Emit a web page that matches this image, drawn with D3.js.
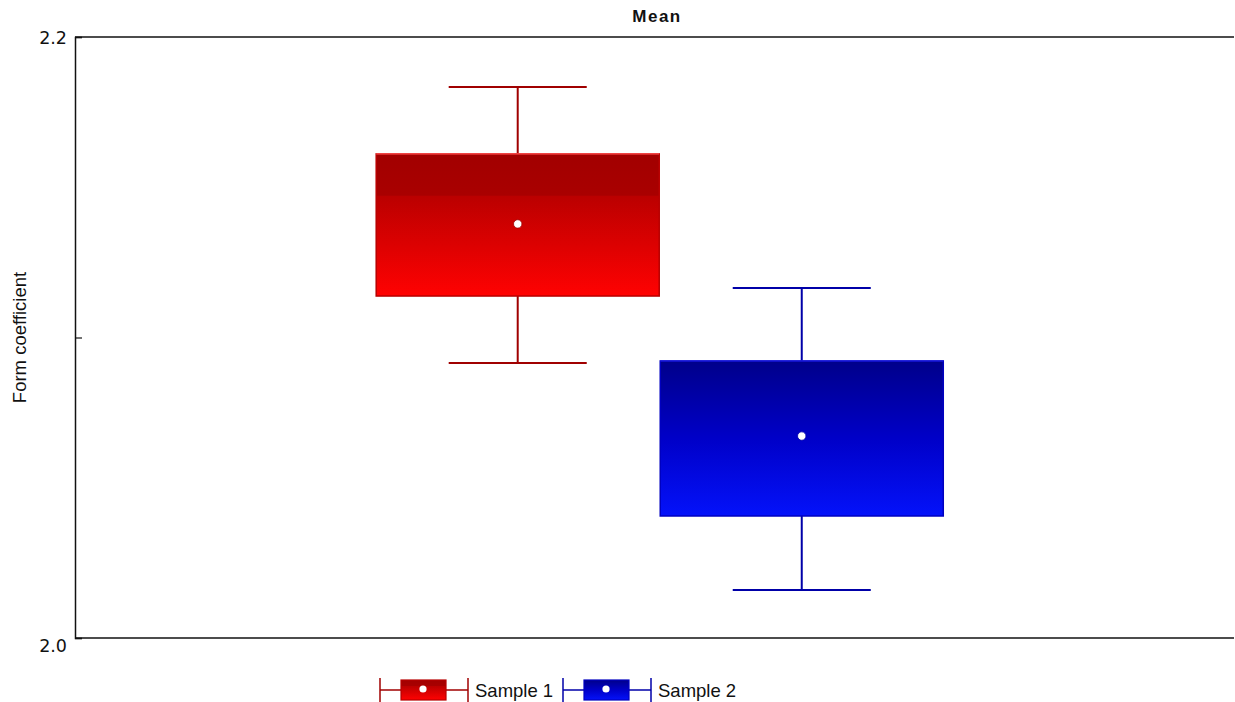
<!DOCTYPE html>
<html>
<head>
<meta charset="utf-8">
<script src="https://cdn.jsdelivr.net/npm/d3@7"></script>
<style>
  html, body { margin: 0; padding: 0; background: #fff; }
  svg { display: block; }
</style>
</head>
<body>
<svg id="chart" width="1235" height="702"></svg>
<script>
// Form coefficient per sample: mean, box range and whisker range
const categories  = ["Sample 1", "Sample 2"];
const means       = [2.1378, 2.0672];
const boxLow      = [2.1138, 2.0406];
const boxHigh     = [2.1611, 2.0922];
const whiskerLow  = [2.0915, 2.0160];
const whiskerHigh = [2.1834, 2.1165];
const yTicks      = [2.0, 2.1, 2.2];
const yTickLabels = ["2.0", "", "2.2"];

const palette = [
  { line: "#a00000", stops: [["0%", "#a20000"], ["29%", "#a90000"], ["30%", "#bb0000"], ["100%", "#ff0202"]], edge: "#b80000", topEdge: "#ff5050" },
  { line: "#0000a8", stops: [["0%", "#00008a"], ["50%", "#0000c8"], ["100%", "#0412fa"]], edge: "#0000c0", topEdge: "#2020e0" }
];

const W = 1235, H = 702;
const m = { left: 75, right: 0, top: 37, bottom: 64 };
const svg = d3.select("#chart");

const x = d3.scaleBand()
  .domain(categories)
  .range([m.left, W - m.right])
  .paddingInner(0)
  .paddingOuter(1.042)
  .align(0.508);

const y = d3.scaleLinear()
  .domain([2.0, 2.2])
  .range([H - m.bottom, m.top]);

// gradients
const defs = svg.append("defs");
palette.forEach((p, i) => {
  const g = defs.append("linearGradient")
    .attr("id", "grad" + i)
    .attr("x1", 0).attr("y1", 0).attr("x2", 0).attr("y2", 1);
  p.stops.forEach(s => g.append("stop").attr("offset", s[0]).attr("stop-color", s[1]));
});

// title
svg.append("text")
  .attr("x", 657).attr("y", 22)
  .attr("text-anchor", "middle")
  .attr("font-family", "Liberation Sans, Arial, sans-serif")
  .attr("font-weight", "bold")
  .attr("font-size", 17)
  .attr("letter-spacing", 1.5)
  .attr("fill", "#111")
  .text("Mean");

// y axis label
svg.append("text")
  .attr("transform", `translate(26,${y(2.1)}) rotate(-90)`)
  .attr("text-anchor", "middle")
  .attr("font-family", "Liberation Sans, Arial, sans-serif")
  .attr("font-size", 18.5)
  .attr("fill", "#111")
  .text("Form coefficient");

// frame lines (top and bottom)
svg.append("line")
  .attr("x1", m.left).attr("x2", W - 1)
  .attr("y1", y(2.2)).attr("y2", y(2.2))
  .attr("stroke", "#111").attr("stroke-width", 1.5);
svg.append("line")
  .attr("x1", m.left).attr("x2", W - 1)
  .attr("y1", y(2.0)).attr("y2", y(2.0))
  .attr("stroke", "#111").attr("stroke-width", 1.5);

// y axis
const yAxis = d3.axisLeft(y)
  .tickValues(yTicks)
  .tickSize(-7)
  .tickPadding(8)
  .tickFormat((d, i) => yTickLabels[i]);
const ga = svg.append("g")
  .attr("transform", `translate(${m.left},0)`)
  .call(yAxis);
ga.select(".domain").attr("stroke", "#111").attr("stroke-width", 1.5);
ga.selectAll(".tick line").attr("stroke", "#111").attr("stroke-width", 1.2);
ga.selectAll(".tick text")
  .attr("font-family", "DejaVu Sans, sans-serif")
  .attr("font-size", 17.5)
  .attr("fill", "#111")
  .attr("dy", d => d === 2.0 ? "0.75em" : "0.36em");

// boxes
const bw = x.bandwidth();
const capW = bw * 0.486;
categories.forEach((c, i) => {
  const p = palette[i];
  const cx = x(c) + bw / 2;
  const g = svg.append("g");
  // whisker stem
  g.append("line")
    .attr("x1", cx).attr("x2", cx)
    .attr("y1", y(whiskerHigh[i])).attr("y2", y(whiskerLow[i]))
    .attr("stroke", p.line).attr("stroke-width", 2);
  // caps
  [whiskerHigh[i], whiskerLow[i]].forEach(v => {
    g.append("line")
      .attr("x1", cx - capW / 2).attr("x2", cx + capW / 2)
      .attr("y1", y(v)).attr("y2", y(v))
      .attr("stroke", p.line).attr("stroke-width", 2);
  });
  // box
  g.append("rect")
    .attr("x", x(c) + 0.5).attr("width", bw - 1)
    .attr("y", y(boxHigh[i])).attr("height", y(boxLow[i]) - y(boxHigh[i]))
    .attr("fill", `url(#grad${i})`)
    .attr("stroke", p.edge).attr("stroke-width", 1.5);
  g.append("line")
    .attr("x1", x(c) + 0.5).attr("x2", x(c) + bw - 0.5)
    .attr("y1", y(boxHigh[i])).attr("y2", y(boxHigh[i]))
    .attr("stroke", p.topEdge).attr("stroke-width", 1.2);
  // mean marker
  g.append("circle")
    .attr("cx", cx).attr("cy", y(means[i]))
    .attr("r", 4.2)
    .attr("fill", "#fff")
    .attr("stroke", p.line).attr("stroke-width", 0.8);
});

// legend
const legendY = 690;
const legendItems = [{ x0: 380 }, { x0: 563 }];
categories.forEach((c, i) => {
  const p = palette[i];
  const x0 = legendItems[i].x0;
  const g = svg.append("g");
  g.append("line").attr("x1", x0).attr("x2", x0 + 88)
    .attr("y1", legendY).attr("y2", legendY)
    .attr("stroke", p.line).attr("stroke-width", 1.5);
  [x0, x0 + 88].forEach(xx => {
    g.append("line").attr("x1", xx).attr("x2", xx)
      .attr("y1", legendY - 12).attr("y2", legendY + 12)
      .attr("stroke", p.line).attr("stroke-width", 1.5);
  });
  g.append("rect")
    .attr("x", x0 + 21).attr("y", legendY - 10)
    .attr("width", 45).attr("height", 20)
    .attr("fill", `url(#grad${i})`)
    .attr("stroke", p.edge).attr("stroke-width", 1.2);
  g.append("circle")
    .attr("cx", x0 + 43).attr("cy", legendY - 1).attr("r", 3.6)
    .attr("fill", "#fff");
  g.append("text")
    .attr("x", x0 + 95).attr("y", legendY + 7)
    .attr("font-family", "Liberation Sans, Arial, sans-serif")
    .attr("font-size", 18.5)
    .attr("fill", "#111")
    .text(c);
});
</script>
</body>
</html>
